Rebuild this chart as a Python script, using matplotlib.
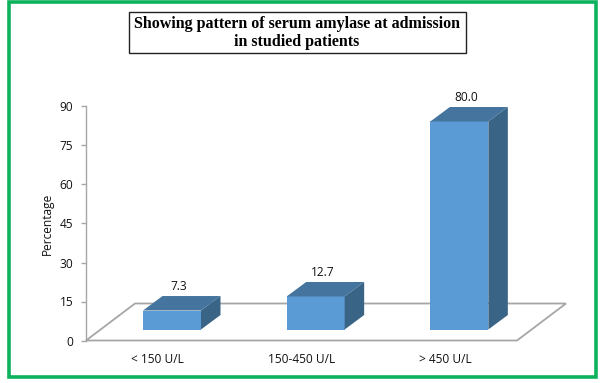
import matplotlib
matplotlib.use('Agg')
import matplotlib.pyplot as plt
from matplotlib.patches import Polygon, Rectangle

categories = ['< 150 U/L', '150-450 U/L', '> 450 U/L']
values = [7.3, 12.7, 80.0]
value_labels = ['7.3', '12.7', '80.0']
y_ticks = [0, 15, 30, 45, 60, 75, 90]

W, H = 600, 383
FRONT = '#5B9BD5'
TOP = '#45759F'
SIDE = '#3A6486'
GRID = '#A6A6A6'
LABEL_FONT = 'Open Sans'
LABEL_SIZE = 8.6

fig = plt.figure(figsize=(W / 100, H / 100), dpi=100)

# cuadro verde exterior, en pixeles
bg = fig.add_axes([0, 0, 1, 1])
bg.set_xlim(0, W)
bg.set_ylim(H, 0)
bg.axis('off')
bg.add_patch(Rectangle((8.5, 2), 587.5, 375, fill=False, ec='#0DB25C', lw=2.6))

# ejes: x de 86 a 517 px, y de 340.5 a 106.5 px
ax = fig.add_axes([86 / W, 1 - 340.5 / H, 431 / W, 234 / H])
ax.set_xlim(0, 3)
ax.set_ylim(0, 90)
ax.patch.set_visible(False)
for s in ['top', 'right', 'bottom']:
    ax.spines[s].set_visible(False)
ax.spines['left'].set_color(GRID)
ax.spines['left'].set_linewidth(1.0)
ax.set_yticks(y_ticks)
ax.tick_params(axis='y', length=3.6, width=1, color=GRID, pad=5.5)
ax.set_xticks([0.5, 1.5, 2.5])
ax.set_xticklabels(categories)
ax.tick_params(axis='x', length=0, pad=9)
for t in ax.get_xticklabels() + ax.get_yticklabels():
    t.set_fontfamily(LABEL_FONT)
    t.set_fontsize(LABEL_SIZE)
    t.set_color('#111111')
ax.set_ylabel('Percentage', fontfamily=LABEL_FONT, fontsize=LABEL_SIZE, labelpad=4, color='#111111')

# piso en perspectiva
floor_dx = 49 / (431 / 3)
floor_dy = 37 / 2.6
ax.add_patch(Polygon([(0, 0), (3, 0), (3 + floor_dx, floor_dy), (floor_dx, floor_dy)],
                     closed=True, fill=False, ec=GRID, lw=1.3, clip_on=False, zorder=1))

# barras con cara superior y lateral
bar_left = 57 / (431 / 3)
bar_w = 58 / (431 / 3)
base = 11 / 2.6
dx = 19.5 / (431 / 3)
dy = 14.5 / 2.6
xs = [i + bar_left for i in range(len(values))]
ax.bar(xs, values, width=bar_w, bottom=base, align='edge', color=FRONT, zorder=3, clip_on=False)
for x, v, lab in zip(xs, values, value_labels):
    top = base + v
    ax.add_patch(Polygon([(x, top), (x + bar_w, top), (x + bar_w + dx, top + dy), (x + dx, top + dy)],
                         closed=True, fc=TOP, ec='none', zorder=3, clip_on=False))
    ax.add_patch(Polygon([(x + bar_w, base), (x + bar_w + dx, base + dy), (x + bar_w + dx, top + dy), (x + bar_w, top)],
                         closed=True, fc=SIDE, ec='none', zorder=3, clip_on=False))
    ax.annotate(lab, (x + bar_w / 2 + dx * 0.35, top + dy), xytext=(0, 2.5), textcoords='offset points',
                ha='center', va='bottom', fontfamily=LABEL_FONT, fontsize=LABEL_SIZE, color='#111111',
                annotation_clip=False)

# titulo en caja
bg.add_patch(Rectangle((128.5, 11.5), 337, 41, fc='white', ec='#222222', lw=1.0))
bg.text(297, 33, 'Showing pattern of serum amylase at admission\nin studied patients',
        ha='center', va='center', fontfamily='Liberation Serif', fontweight='bold',
        fontsize=11.55, linespacing=1.25, color='black')

fig.savefig('out.png', dpi=100)
